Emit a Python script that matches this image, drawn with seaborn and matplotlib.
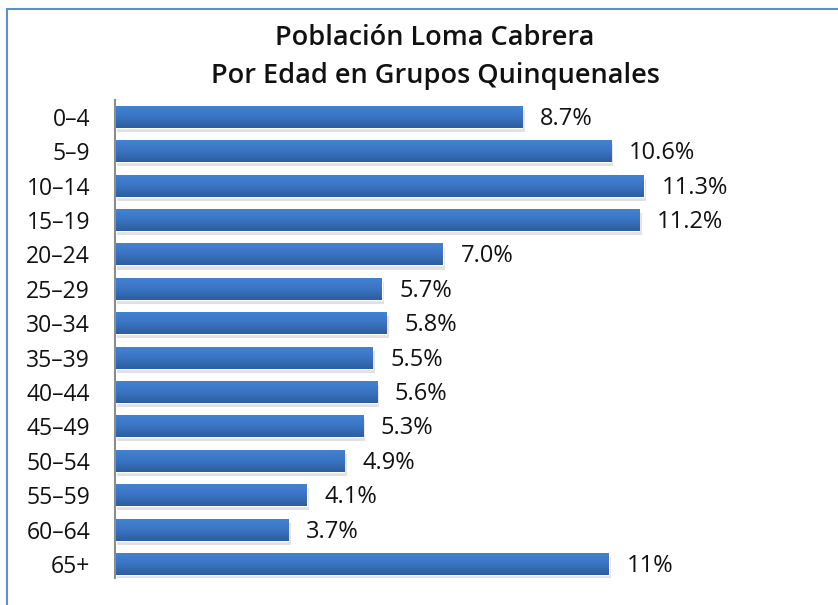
import numpy as np
import seaborn as sns
import pandas as pd
from matplotlib import pyplot as plt
from matplotlib.lines import Line2D

grupos = ['0–4', '5–9', '10–14', '15–19', '20–24', '25–29', '30–34', '35–39',
          '40–44', '45–49', '50–54', '55–59', '60–64', '65+']
porcentaje = [8.7, 10.6, 11.3, 11.2, 7.0, 5.7, 5.8, 5.5, 5.6, 5.3, 4.9, 4.1, 3.7, 10.55]
etiquetas = ['8.7%', '10.6%', '11.3%', '11.2%', '7.0%', '5.7%', '5.8%', '5.5%',
             '5.6%', '5.3%', '4.9%', '4.1%', '3.7%', '11%']

df = pd.DataFrame({'Grupo': grupos, 'Porcentaje': porcentaje})

sns.set_style('white')
plt.rcParams['font.family'] = ['Open Sans', 'DejaVu Sans']

fig = plt.figure(figsize=(8.38, 6.05), dpi=100)
ax = fig.add_axes([115 / 838, 1 - 578 / 605, (780 - 115) / 838, (578 - 100) / 605])

sns.barplot(data=df, y='Grupo', x='Porcentaje', orient='h', color='#3b76c2',
            width=0.64, ax=ax, zorder=3)

# gradiente y sombra en cada barra
grad = np.linspace(0, 1, 64).reshape(-1, 1)
cmap = plt.matplotlib.colors.LinearSegmentedColormap.from_list(
    'barra', ['#4483d3', '#3a75c3', '#2d5e9e'])
for p in ax.patches:
    x0, y0 = p.get_x(), p.get_y()
    w, h = p.get_width(), p.get_height()
    sh = plt.Rectangle((x0 + 0.05, y0 + 0.12), w, h, color='#bdbdbd', alpha=0.45,
                       lw=0, zorder=2)
    ax.add_patch(sh)
    im = ax.imshow(grad, cmap=cmap, aspect='auto', extent=(x0, x0 + w, y0 + h, y0),
                   zorder=4)
    im.set_clip_path(p)

for i, (v, t) in enumerate(zip(porcentaje, etiquetas)):
    ax.text(v + 0.38, i + 0.06, t, va='center', ha='left', fontsize=17, color='#111111')

ax.set_xlim(0, (780 - 115) / 46.8)
ax.set_ylim(13.41, -0.49)
ax.set_xlabel('')
ax.set_ylabel('')
ax.set_xticks([])
ax.tick_params(axis='y', length=0, pad=18, labelsize=16.5, labelcolor='#111111')
for s in ['top', 'right', 'bottom']:
    ax.spines[s].set_visible(False)
ax.spines['left'].set_color('#8c8c8c')
ax.spines['left'].set_linewidth(1.5)
ax.spines['left'].set_zorder(5)

fig.text(435 / 838, 1 - 38 / 605, 'Población Loma Cabrera', ha='center', va='center',
         fontsize=19.5, fontweight='semibold', color='#111111')
fig.text(435 / 838, 1 - 76 / 605, 'Por Edad en Grupos Quinquenales', ha='center',
         va='center', fontsize=19.5, fontweight='semibold', color='#111111')

# marco
fig.add_artist(Line2D([7 / 838, 1.0], [1 - 9 / 605, 1 - 9 / 605], color='#5b8fd0', lw=1.5))
fig.add_artist(Line2D([7 / 838, 7 / 838], [1 - 9 / 605, 0.0], color='#5b8fd0', lw=1.5))

fig.savefig('out.png', dpi=100)
